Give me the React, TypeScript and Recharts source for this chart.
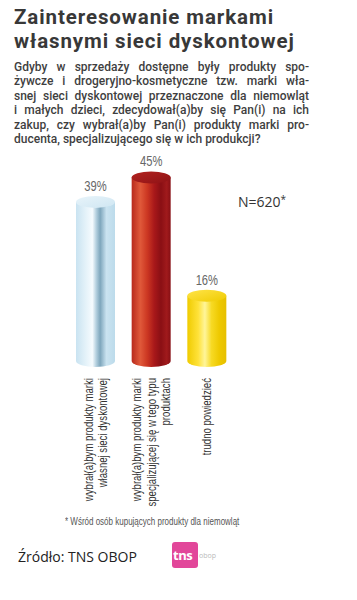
import React from 'react';
import { BarChart, Bar, XAxis, YAxis, LabelList } from 'recharts';

const categories = [
    'wybrał(a)bym produkty marki\nwłasnej sieci dyskontowej',
    'wybrał(a)bym produkty marki\nspecjalizującej się w tego typu\nproduktach',
    'trudno powiedzieć'
];
const values = [39, 45, 16];
const valueLabels = ['39%', '45%', '16%'];

const titleLines = ['Zainteresowanie markami', 'własnymi sieci dyskontowej'];
const questionLines = [
    'Gdyby w sprzedaży dostępne były produkty spo-',
    'żywcze i drogeryjno-kosmetyczne tzw. marki wła-',
    'snej sieci dyskontowej przeznaczone dla niemowląt',
    'i małych dzieci, zdecydował(a)by się Pan(i) na ich',
    'zakup, czy wybrał(a)by Pan(i) produkty marki pro-',
    'ducenta, specjalizującego się w ich produkcji?'
];

const data = categories.map((name, i) => ({ name, value: values[i], label: valueLabels[i] }));

const gradIds = ['cylBlue', 'cylRed', 'cylYellow'];

const Cylinder = (props: any) => {
    const { x, y, width, height, index } = props;
    const ry = 6;
    const cx = x + width / 2;
    const rx = width / 2;
    const body = `M${x},${y} L${x},${y + height} A${rx},${ry} 0 0 0 ${x + width},${y + height} L${x + width},${y} Z`;
    return (
        <g>
            <path d={body} fill={`url(#${gradIds[index]})`} />
            <ellipse cx={cx} cy={y} rx={rx} ry={ry} fill={`url(#${gradIds[index]}Cap)`} />
        </g>
    );
};

const CategoryTick = (props: any) => {
    const { x, y, payload } = props;
    const lines = String(payload.value).split('\n');
    const gap = 14.5;
    return (
        <g transform={`translate(${x},${y + 17}) rotate(-90) scale(0.8,1)`}>
            <text textAnchor="end" fontFamily="'Liberation Sans', Arial, sans-serif" fontSize={12} fill="#333">
                {lines.map((line, i) => (
                    <tspan key={i} x={0} y={(i - (lines.length - 1) / 2) * gap + 4}>
                        {line}
                    </tspan>
                ))}
            </text>
        </g>
    );
};

const ValueLabel = (props: any) => {
    const { x, y, width, value } = props;
    return (
        <g transform={`translate(${x + width / 2},${y - 11}) scale(0.8,1)`}>
            <text textAnchor="middle" fontFamily="'Liberation Sans', Arial, sans-serif" fontSize={14} fill="#666">
                {value}
            </text>
        </g>
    );
};

export default function App() {
    return (
        <div style={{ position: 'absolute', left: 0, top: 0, width: 357, height: 600, background: '#fff', overflow: 'hidden' }}>
            <div style={{ position: 'absolute', left: 14, top: 5, fontFamily: "Roboto, sans-serif", fontWeight: 700, fontSize: 20.5, lineHeight: '24px', letterSpacing: 0.9, color: '#383838', whiteSpace: 'nowrap' }}>
                {titleLines.map((t, i) => <div key={i}>{t}</div>)}
            </div>
            <div style={{ position: 'absolute', left: 14, top: 60, width: 295, fontFamily: "Roboto, sans-serif", fontWeight: 500, fontSize: 12, lineHeight: '14.4px', color: '#3f3f3f' }}>
                {questionLines.map((t, i) => (
                    <div key={i} style={{ textAlign: 'justify', textAlignLast: i < questionLines.length - 1 ? 'justify' : 'left', whiteSpace: 'nowrap' }}>{t}</div>
                ))}
            </div>
            <div style={{ position: 'absolute', left: 238, top: 192, fontFamily: "'Open Sans', sans-serif", fontSize: 14, color: '#333' }}>
                N=620<span style={{ fontSize: 10, verticalAlign: 'top' }}>*</span>
            </div>
            <div style={{ position: 'absolute', top: 0, left: 0 }}>
                <BarChart width={357} height={600} data={data} margin={{ top: 157, right: 122, left: 68, bottom: 0 }}>
                    <defs>
                        <linearGradient id="cylBlue" x1="0" y1="0" x2="1" y2="0">
                            <stop offset="0%" stopColor="#c9e3f1" />
                            <stop offset="25%" stopColor="#e4f2f9" />
                            <stop offset="42%" stopColor="#f6fbfe" />
                            <stop offset="52%" stopColor="#b3cfde" />
                            <stop offset="62%" stopColor="#7ea6bc" />
                            <stop offset="78%" stopColor="#cae3f0" />
                            <stop offset="100%" stopColor="#bcdbeb" />
                        </linearGradient>
                        <linearGradient id="cylBlueCap" x1="0" y1="0" x2="1" y2="1">
                            <stop offset="0%" stopColor="#e8f4fa" />
                            <stop offset="100%" stopColor="#cfe6f2" />
                        </linearGradient>
                        <linearGradient id="cylRed" x1="0" y1="0" x2="1" y2="0">
                            <stop offset="0%" stopColor="#b82a1c" />
                            <stop offset="22%" stopColor="#e0593a" />
                            <stop offset="40%" stopColor="#cc3722" />
                            <stop offset="58%" stopColor="#a8181a" />
                            <stop offset="75%" stopColor="#8a0f14" />
                            <stop offset="90%" stopColor="#a01a1c" />
                            <stop offset="100%" stopColor="#870f14" />
                        </linearGradient>
                        <linearGradient id="cylRedCap" x1="0" y1="0" x2="1" y2="1">
                            <stop offset="0%" stopColor="#b3231f" />
                            <stop offset="100%" stopColor="#8e1216" />
                        </linearGradient>
                        <linearGradient id="cylYellow" x1="0" y1="0" x2="1" y2="0">
                            <stop offset="0%" stopColor="#efcb00" />
                            <stop offset="28%" stopColor="#ffe23a" />
                            <stop offset="45%" stopColor="#fff59a" />
                            <stop offset="62%" stopColor="#f7da24" />
                            <stop offset="82%" stopColor="#eec900" />
                            <stop offset="100%" stopColor="#e6bf00" />
                        </linearGradient>
                        <linearGradient id="cylYellowCap" x1="0" y1="0" x2="1" y2="1">
                            <stop offset="0%" stopColor="#ffe44a" />
                            <stop offset="100%" stopColor="#efcb00" />
                        </linearGradient>
                    </defs>
                    <XAxis
                        dataKey="name"
                        height={239}
                        axisLine={false}
                        tickLine={false}
                        tickSize={0}
                        tickMargin={0}
                        interval={0}
                        tick={<CategoryTick />}
                    />
                    <YAxis hide domain={[0, 50]} />
                    <Bar dataKey="value" barSize={39} shape={<Cylinder />} isAnimationActive={false}>
                        <LabelList dataKey="label" content={<ValueLabel />} />
                    </Bar>
                </BarChart>
            </div>
            <div style={{ position: 'absolute', left: 65, top: 516, fontFamily: "'Liberation Sans', Arial, sans-serif", fontSize: 10, color: '#555', whiteSpace: 'nowrap', transform: 'scaleX(0.8)', transformOrigin: 'left top' }}>
                * Wśród osób kupujących produkty dla niemowląt
            </div>
            <div style={{ position: 'absolute', left: 18, top: 547, fontFamily: "'Open Sans', sans-serif", fontSize: 14, color: '#222', whiteSpace: 'nowrap' }}>
                Źródło: TNS OBOP
            </div>
            <div style={{ position: 'absolute', left: 172, top: 542, width: 26, height: 26, background: '#e2479a', borderRadius: 3 }} />
            <div style={{ position: 'absolute', left: 173, top: 546, fontFamily: "'Open Sans', sans-serif", fontWeight: 700, fontSize: 13, color: '#fff', letterSpacing: -0.5 }}>
                tns
            </div>
            <div style={{ position: 'absolute', left: 199, top: 551, fontFamily: "'Open Sans', sans-serif", fontSize: 7, color: '#bbb' }}>
                obop
            </div>
        </div>
    );
}
